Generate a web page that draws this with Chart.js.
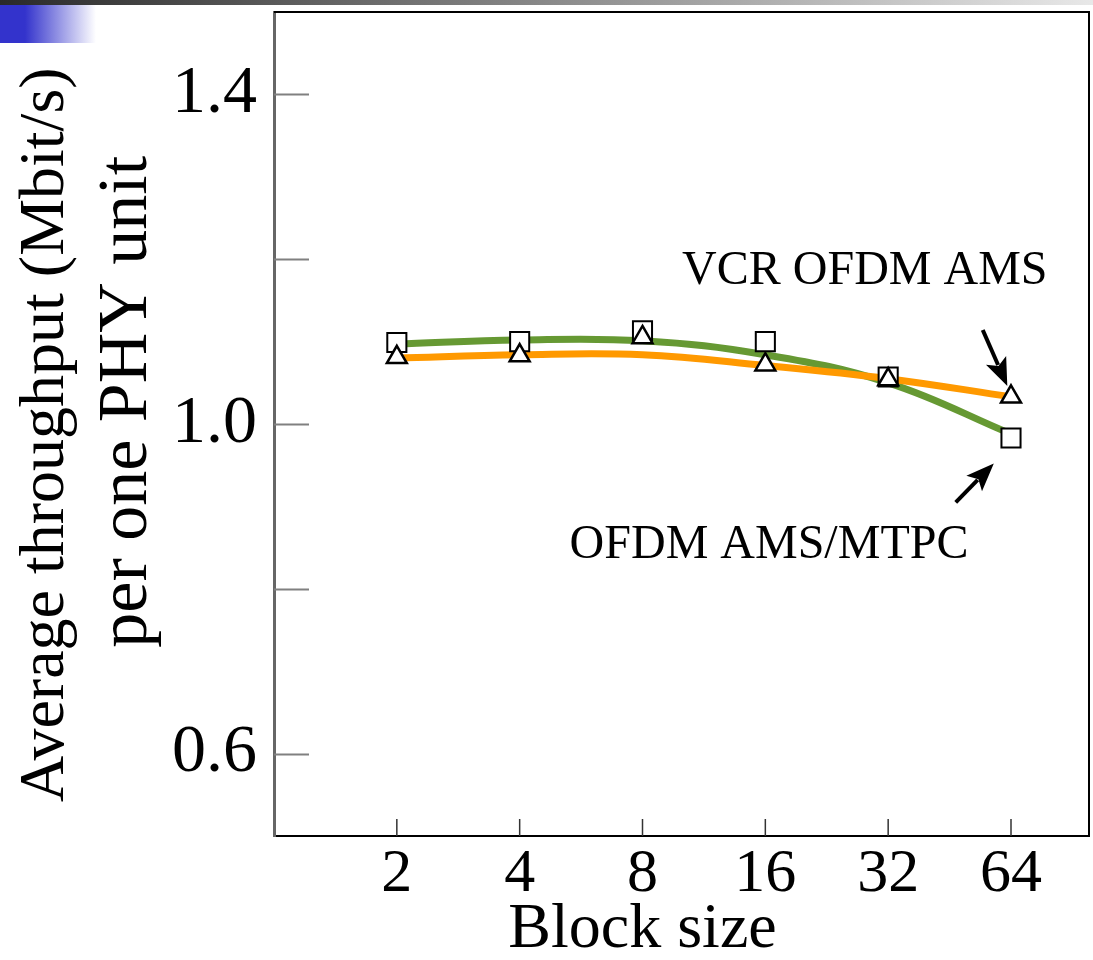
<!DOCTYPE html>
<html>
<head>
<meta charset="utf-8">
<script src="https://cdn.jsdelivr.net/npm/chart.js@4.4.1/dist/chart.umd.min.js"></script>
<style>
  html, body { margin: 0; background: #fff; overflow: hidden; }
  #topBar {
    position: absolute; left: 0; top: 0; width: 1093px; height: 5px;
    background: linear-gradient(to right, #2a2a2a, #e8e8e8);
  }
  #blueTab {
    position: absolute; left: 0; top: 5px; width: 96px; height: 38px;
    background: linear-gradient(to right, #3333cc 0%, #3333cc 26%, #ffffff 100%);
  }
  #wrap { position: absolute; left: 0; top: 0; width: 1093px; height: 960px; }
  #throughputChart { display: block; }
</style>
</head>
<body>
<div id="wrap"><canvas id="throughputChart" width="1093" height="960"></canvas></div>
<div id="topBar"></div>
<div id="blueTab"></div>
<script>
// block sizes on the x axis
const blockSizes = ["2", "4", "8", "16", "32", "64"];

// measured points
const amsMtpcPoints = [1.099, 1.100, 1.113, 1.100, 1.057, 0.983];
const vcrPoints = [1.081, 1.083, 1.105, 1.072, 1.054, 1.033];

// fitted curves at each block size
const amsMtpcFit = [1.097, 1.102, 1.101, 1.084, 1.050, 0.988];
const vcrFit = [1.080, 1.084, 1.084, 1.071, 1.055, 1.033];

// y ticks, only some of them get a label
const yTicks = [0.6, 0.8, 1.0, 1.2, 1.4];
const yLabeled = [0.6, 1.0, 1.4];

const serif = "'Liberation Serif', 'Times New Roman', serif";

function toXY(values) {
  return values.map((v, i) => ({ x: i + 1, y: v }));
}

// no extra room for tick labels that hang over the edges
function noOverhang(scale) {
  scale.paddingTop = 0;
  scale.paddingBottom = 0;
  scale.paddingLeft = 0;
  scale.paddingRight = 0;
}

// inward tick marks, the box, axis titles and the two labelled arrows
const decorations = {
  id: "decorations",
  afterDatasetsDraw(chart) {
    const { ctx, chartArea, scales } = chart;
    const xs = scales.x;
    const ys = scales.y;
    ctx.save();

    // y ticks (inside the plot)
    ctx.strokeStyle = "#808080";
    ctx.lineWidth = 2;
    yTicks.forEach((t) => {
      const py = Math.round(ys.getPixelForValue(t)) + 0.5;
      ctx.beginPath();
      ctx.moveTo(chartArea.left, py);
      ctx.lineTo(chartArea.left + 35, py);
      ctx.stroke();
    });

    // x ticks
    ctx.strokeStyle = "#333";
    ctx.lineWidth = 1.5;
    blockSizes.forEach((b, i) => {
      const px = xs.getPixelForValue(i + 1);
      ctx.beginPath();
      ctx.moveTo(px, chartArea.bottom);
      ctx.lineTo(px, chartArea.bottom - 17);
      ctx.stroke();
    });

    // top and right border
    ctx.strokeStyle = "#000";
    ctx.lineWidth = 2;
    ctx.beginPath();
    ctx.moveTo(chartArea.left, chartArea.top);
    ctx.lineTo(chartArea.right, chartArea.top);
    ctx.lineTo(chartArea.right, chartArea.bottom);
    ctx.stroke();

    ctx.fillStyle = "#000";
    ctx.textAlign = "center";
    ctx.textBaseline = "middle";

    // axis titles
    ctx.font = "64px " + serif;
    ctx.fillText("Block size", xs.getPixelForValue(3), 930);
    ctx.save();
    ctx.translate(46, ys.getPixelForValue(0.987));
    ctx.rotate(-Math.PI / 2);
    ctx.fillText("Average throughput (Mbit/s)", 0, 0);
    ctx.restore();
    ctx.save();
    ctx.translate(128, ys.getPixelForValue(1.027));
    ctx.rotate(-Math.PI / 2);
    ctx.font = "70px " + serif;
    ctx.fillText("per one PHY unit", 0, 0);
    ctx.restore();

    // curve labels
    ctx.font = "48px " + serif;
    ctx.fillText("VCR OFDM AMS", xs.getPixelForValue(4.81), ys.getPixelForValue(1.185));
    ctx.fillText("OFDM AMS/MTPC", xs.getPixelForValue(4.03), ys.getPixelForValue(0.853));

    drawArrow(ctx, xs.getPixelForValue(5.77), ys.getPixelForValue(1.114),
      xs.getPixelForValue(5.97), ys.getPixelForValue(1.046));
    drawArrow(ctx, xs.getPixelForValue(5.55), ys.getPixelForValue(0.905),
      xs.getPixelForValue(5.86), ys.getPixelForValue(0.952));

    ctx.restore();
  },
};

function drawArrow(ctx, x1, y1, x2, y2) {
  const ang = Math.atan2(y2 - y1, x2 - x1);
  const head = 28;
  const bx = x2 - head * Math.cos(ang);
  const by = y2 - head * Math.sin(ang);
  ctx.strokeStyle = "#000";
  ctx.lineWidth = 4;
  ctx.beginPath();
  ctx.moveTo(x1, y1);
  ctx.lineTo(bx + 5 * Math.cos(ang), by + 5 * Math.sin(ang));
  ctx.stroke();
  ctx.beginPath();
  ctx.moveTo(x2, y2);
  ctx.lineTo(bx + 11 * Math.sin(ang), by - 11 * Math.cos(ang));
  ctx.lineTo(bx + 6 * Math.cos(ang), by + 6 * Math.sin(ang));
  ctx.lineTo(bx - 11 * Math.sin(ang), by + 11 * Math.cos(ang));
  ctx.closePath();
  ctx.fill();
}

const ctx = document.getElementById("throughputChart");

new Chart(ctx, {
  type: "scatter",
  data: {
    datasets: [
      {
        label: "VCR OFDM AMS",
        data: toXY(vcrPoints),
        pointStyle: "triangle",
        pointRadius: 11.5,
        backgroundColor: "#fff",
        borderColor: "#000",
        borderWidth: 2.5,
        showLine: false,
      },
      {
        label: "OFDM AMS/MTPC",
        data: toXY(amsMtpcPoints),
        pointStyle: "rect",
        pointRadius: 13.5,
        backgroundColor: "#fff",
        borderColor: "#000",
        borderWidth: 2,
        showLine: false,
      },
      {
        label: "VCR OFDM AMS fit",
        data: toXY(vcrFit),
        showLine: true,
        borderColor: "#ff9900",
        borderWidth: 7,
        pointRadius: 0,
        tension: 0.4,
      },
      {
        label: "OFDM AMS/MTPC fit",
        data: toXY(amsMtpcFit),
        showLine: true,
        borderColor: "#669933",
        borderWidth: 7,
        pointRadius: 0,
        tension: 0.4,
      },
    ],
  },
  options: {
    responsive: false,
    animation: false,
    layout: { autoPadding: false, padding: { top: 12, right: 4, left: 0, bottom: 0 } },
    plugins: {
      legend: { display: false },
      tooltip: { enabled: false },
    },
    scales: {
      x: {
        type: "linear",
        min: 0,
        max: 6.635,
        grid: { display: false, drawTicks: false },
        border: { color: "#000", width: 2 },
        afterBuildTicks: (scale) => {
          scale.ticks = blockSizes.map((b, i) => ({ value: i + 1 }));
        },
        afterFit: (scale) => {
          scale.height = 124;
          noOverhang(scale);
        },
        ticks: {
          color: "#000",
          padding: 2,
          font: { family: serif, size: 62 },
          callback: (v) => blockSizes[v - 1],
        },
      },
      y: {
        min: 0.5,
        max: 1.5,
        grid: { display: false, drawTicks: false },
        border: { color: "#666", width: 3 },
        afterBuildTicks: (scale) => {
          scale.ticks = yTicks.map((t) => ({ value: t }));
        },
        afterFit: (scale) => {
          scale.width = 274;
          noOverhang(scale);
        },
        ticks: {
          color: "#000",
          padding: 17,
          font: { family: serif, size: 68 },
          callback: (v) => (yLabeled.some((t) => Math.abs(t - v) < 1e-6) ? v.toFixed(1) : ""),
        },
      },
    },
  },
  plugins: [decorations],
});
</script>
</body>
</html>
